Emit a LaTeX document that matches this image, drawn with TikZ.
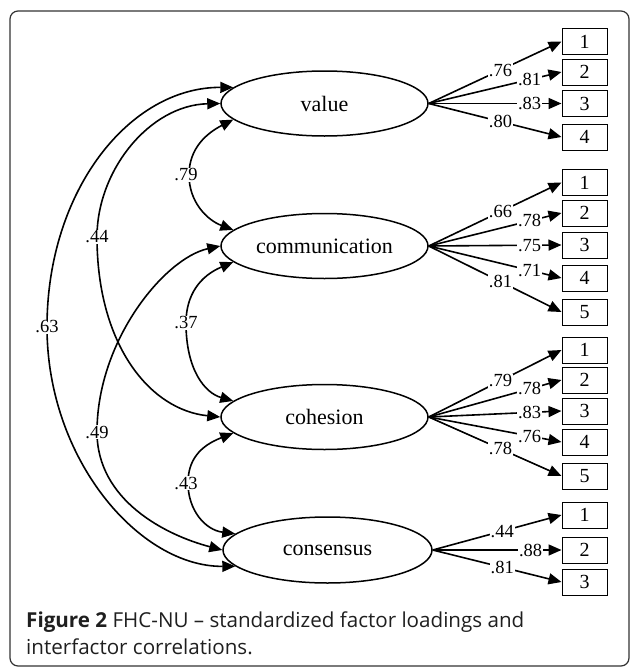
\documentclass[tikz,border=0pt]{standalone}
\usepackage{fontspec}
\setmainfont{Liberation Serif}
\newfontfamily\capfont{Open Sans}
\usetikzlibrary{arrows.meta,shapes.geometric}
\begin{document}
\begin{tikzpicture}[x=1pt,y=-1pt,
  lat/.style={draw, ellipse, line width=1.5pt, minimum width=207pt, minimum height=65pt, inner sep=0pt, font=\fontsize{22}{24}\selectfont},
  obs/.style={draw, line width=1pt, minimum width=45pt, minimum height=26pt, inner sep=0pt, font=\fontsize{20}{22}\selectfont},
  ld/.style={line width=1.6pt, -{Triangle[length=13pt,width=11pt]}},
  cr/.style={line width=1.6pt, {Triangle[length=13pt,width=11pt]}-{Triangle[length=13pt,width=11pt]}},
  lbl/.style={fill=white, inner sep=1pt, font=\fontsize{18.5}{20}\selectfont},
  capt/.style={anchor=base west, inner sep=0pt, text=black!88, font=\capfont\fontsize{20.6}{24}\selectfont},
]
\useasboundingbox (0,0) rectangle (630,667);
\draw[rounded corners=8pt, line width=1.2pt, color=black!80] (10,11) rectangle (629,666);

% latent factors
\node[lat] (value) at (324.5,103.5) {value};
\node[lat] (comm) at (324.5,246) {communication};
\node[lat] (coh) at (324.5,417) {cohesion};
\node[lat, minimum width=209pt, minimum height=66pt] (cons) at (327.5,550) {consensus};

% indicators
\node[obs] (v1) at (584.5,41.5) {1};
\node[obs] (v2) at (584.5,72) {2};
\node[obs] (v3) at (584.5,103.5) {3};
\node[obs] (v4) at (584.5,137) {4};

\node[obs] (m1) at (584.5,182.5) {1};
\node[obs] (m2) at (584.5,213) {2};
\node[obs] (m3) at (584.5,245) {3};
\node[obs] (m4) at (584.5,278) {4};
\node[obs] (m5) at (584.5,312) {5};

\node[obs] (h1) at (584.5,350) {1};
\node[obs] (h2) at (584.5,380) {2};
\node[obs] (h3) at (584.5,411) {3};
\node[obs] (h4) at (584.5,442) {4};
\node[obs] (h5) at (584.5,476) {5};

\node[obs] (s1) at (584.5,515) {1};
\node[obs] (s2) at (584.5,550) {2};
\node[obs] (s3) at (584.5,582) {3};

% loadings
\draw[ld] (value.east) -- node[lbl,pos=0.54] (lv1) {.76} (v1.west);
\draw[ld] (value.east) -- node[lbl,pos=0.76] (lv2) {.81} (v2.west);
\draw[ld] (value.east) -- node[lbl,pos=0.76] (lv3) {.83} (v3.west);
\draw[ld] (value.east) -- node[lbl,pos=0.54] (lv4) {.80} (v4.west);

\draw[ld] (comm.east) -- node[lbl,pos=0.54] (lm1) {.66} (m1.west);
\draw[ld] (comm.east) -- node[lbl,pos=0.76] (lm2) {.78} (m2.west);
\draw[ld] (comm.east) -- node[lbl,pos=0.76] (lm3) {.75} (m3.west);
\draw[ld] (comm.east) -- node[lbl,pos=0.76] (lm4) {.71} (m4.west);
\draw[ld] (comm.east) -- node[lbl,pos=0.54] (lm5) {.81} (m5.west);

\draw[ld] (coh.east) -- node[lbl,pos=0.54] (lh1) {.79} (h1.west);
\draw[ld] (coh.east) -- node[lbl,pos=0.76] (lh2) {.78} (h2.west);
\draw[ld] (coh.east) -- node[lbl,pos=0.76] (lh3) {.83} (h3.west);
\draw[ld] (coh.east) -- node[lbl,pos=0.76] (lh4) {.76} (h4.west);
\draw[ld] (coh.east) -- node[lbl,pos=0.54] (lh5) {.78} (h5.west);

\draw[ld] (cons.east) -- node[lbl,pos=0.54] (ls1) {.44} (s1.west);
\draw[ld] (cons.east) -- node[lbl,pos=0.76] (ls2) {.88} (s2.west);
\draw[ld] (cons.east) -- node[lbl,pos=0.54] (ls3) {.81} (s3.west);

% correlations
\draw[cr] (value.190) .. controls (207,133) and (189,148) .. (189,175) node[lbl,xshift=-3pt] (c79) {.79}
  .. controls (189,202) and (207,220) .. (comm.170);
\draw[cr] (comm.190) .. controls (200,276) and (186,295) .. (186,323) node[lbl] (c37) {.37}
  .. controls (186,370) and (205,393) .. (coh.170);
\draw[cr] (coh.190) .. controls (200,446) and (188,460) .. (188,483) node[lbl,xshift=-2pt] (c43) {.43}
  .. controls (188,510) and (205,530) .. (cons.170);
\draw[cr] (value.180) .. controls (150,105) and (97,170) .. (97,237) node[lbl] (c44) {.44}
  .. controls (97,345) and (150,410) .. (coh.180);
\draw[cr] (comm.180) .. controls (165,258) and (97,340) .. (97,432) node[lbl] (c49) {.49}
  .. controls (97,500) and (165,535) .. (cons.180);
\draw[cr] (value.170) .. controls (130,87) and (47,190) .. (47,327) node[lbl] (c63) {.63}
  .. controls (47,460) and (140,567) .. (cons.190);

% caption
\node[capt] (cap1) at (26,627) {\textbf{Figure 2} FHC-NU – standardized factor loadings and};
\node[capt] (cap2) at (26,654) {interfactor correlations.};
\end{tikzpicture}
\end{document}
